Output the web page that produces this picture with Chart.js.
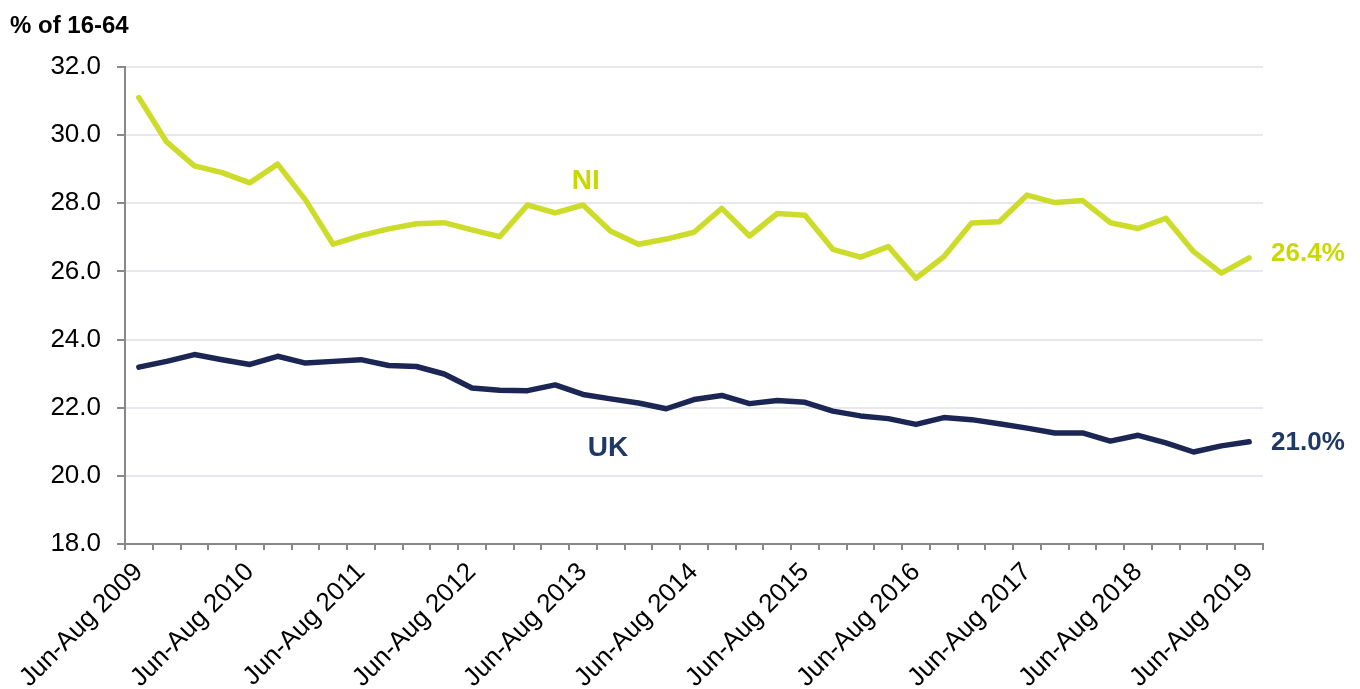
<!DOCTYPE html>
<html>
<head>
<meta charset="utf-8">
<script src="https://cdn.jsdelivr.net/npm/chart.js@4.4.1/dist/chart.umd.min.js"></script>
<style>
  html, body { margin: 0; padding: 0; background: #ffffff; }
  #wrap { position: relative; width: 1360px; height: 689px; }
  canvas { display: block; }
</style>
</head>
<body>
<div id="wrap"><canvas id="c" width="1360" height="689"></canvas></div>
<script>
// ---- Data ----
const years = [2009, 2010, 2011, 2012, 2013, 2014, 2015, 2016, 2017, 2018, 2019];
const quarters = ["Jun-Aug", "Sep-Nov", "Dec-Feb", "Mar-May"];
const categories = [];
for (let i = 0; i < 41; i++) {
  const y = years[Math.floor(i / 4)];
  const q = quarters[i % 4];
  categories.push(q + " " + (q === "Dec-Feb" || q === "Mar-May" ? y + 1 : y));
}
const niValues = [
  31.1, 29.8, 29.1, 28.9, 28.6, 29.15, 28.1, 26.8, 27.05, 27.25,
  27.4, 27.43, 27.22, 27.02, 27.95, 27.72, 27.95, 27.18, 26.8, 26.95,
  27.15, 27.85, 27.04, 27.7, 27.65, 26.65, 26.42, 26.73, 25.8, 26.43,
  27.42, 27.46, 28.24, 28.02, 28.08, 27.43, 27.26, 27.56, 26.58, 25.95,
  26.4
];
const ukValues = [
  23.19, 23.36, 23.56, 23.41, 23.27, 23.51, 23.31, 23.36, 23.41, 23.24,
  23.21, 22.99, 22.58, 22.51, 22.5, 22.67, 22.39, 22.26, 22.14, 21.97,
  22.24, 22.36, 22.12, 22.21, 22.16, 21.9, 21.76, 21.68, 21.51, 21.71,
  21.65, 21.53, 21.4, 21.26, 21.26, 21.02, 21.19, 20.97, 20.7, 20.88,
  21.0
];
const yTicks = [18, 20, 22, 24, 26, 28, 30, 32];
const yAxisTitle = "% of 16-64";
const seriesNames = ["NI", "UK"];
const endLabels = ["26.4%", "21.0%"];

const NI_LINE = "#cddc2a", NI_TEXT = "#c9d900";
const UK_LINE = "#1c2654", UK_TEXT = "#1f3864";
const FONT = "'Liberation Sans', Arial, sans-serif";

const annotationPlugin = {
  id: "annot",
  afterDatasetsDraw(chart) {
    const ctx = chart.ctx;
    const xs = chart.scales.x, ys = chart.scales.y;
    ctx.save();
    ctx.font = "bold 24px " + FONT;
    ctx.fillStyle = "#000";
    ctx.textAlign = "left";
    ctx.textBaseline = "middle";
    ctx.fillText(yAxisTitle, 10, 26);
    ctx.font = "bold 28px " + FONT;
    ctx.textAlign = "center";
    ctx.fillStyle = NI_TEXT;
    ctx.fillText(seriesNames[0], xs.getPixelForValue(16.1), ys.getPixelForValue(28.66));
    ctx.fillStyle = UK_TEXT;
    ctx.fillText(seriesNames[1], xs.getPixelForValue(16.9), ys.getPixelForValue(20.8));
    ctx.font = "bold 26px " + FONT;
    ctx.textAlign = "left";
    const last = niValues.length - 1;
    const lx = xs.getPixelForValue(last) + 22;
    ctx.fillStyle = NI_TEXT;
    ctx.fillText(endLabels[0], lx, ys.getPixelForValue(niValues[last]) - 4);
    ctx.fillStyle = UK_TEXT;
    ctx.fillText(endLabels[1], lx, ys.getPixelForValue(ukValues[last]) + 1);
    ctx.restore();
  }
};

new Chart(document.getElementById("c"), {
  type: "line",
  data: {
    labels: categories,
    datasets: [
      { label: seriesNames[0], data: niValues, borderColor: NI_LINE, borderWidth: 5.5,
        pointRadius: 0, tension: 0, fill: false, borderCapStyle: "round", borderJoinStyle: "round" },
      { label: seriesNames[1], data: ukValues, borderColor: UK_LINE, borderWidth: 5.5,
        pointRadius: 0, tension: 0, fill: false, borderCapStyle: "round", borderJoinStyle: "round" }
    ]
  },
  options: {
    responsive: false,
    animation: false,
    events: [],
    layout: { padding: { left: 0, right: 97, top: 67, bottom: 0 } },
    plugins: { legend: { display: false }, tooltip: { enabled: false } },
    scales: {
      x: {
        offset: true,
        grid: { offset: true, drawOnChartArea: false, drawTicks: true, tickLength: 6, color: "#888888", lineWidth: 2 },
        border: { display: true, color: "#888888", width: 2 },
        ticks: {
          autoSkip: false,
          maxRotation: 45, minRotation: 45,
          padding: 7,
          color: "#000",
          font: { family: FONT, size: 26 },
          callback: function (v, i) { return i % 4 === 0 ? categories[i] : ""; }
        },
        afterFit: function (s) { s.height = 145; }
      },
      y: {
        min: 18, max: 32,
        afterBuildTicks: function (s) { s.ticks = yTicks.map(v => ({ value: v })); },
        grid: { color: "#e6e8ee", lineWidth: 2, drawTicks: true, tickLength: 8, tickColor: "#888888", tickWidth: 2 },
        border: { display: true, color: "#888888", width: 2 },
        ticks: {
          padding: 16,
          color: "#000",
          font: { family: FONT, size: 26 },
          callback: function (v) { return Number(v).toFixed(1); }
        },
        afterFit: function (s) { s.width = 125; }
      }
    }
  },
  plugins: [annotationPlugin]
});
</script>
</body>
</html>
